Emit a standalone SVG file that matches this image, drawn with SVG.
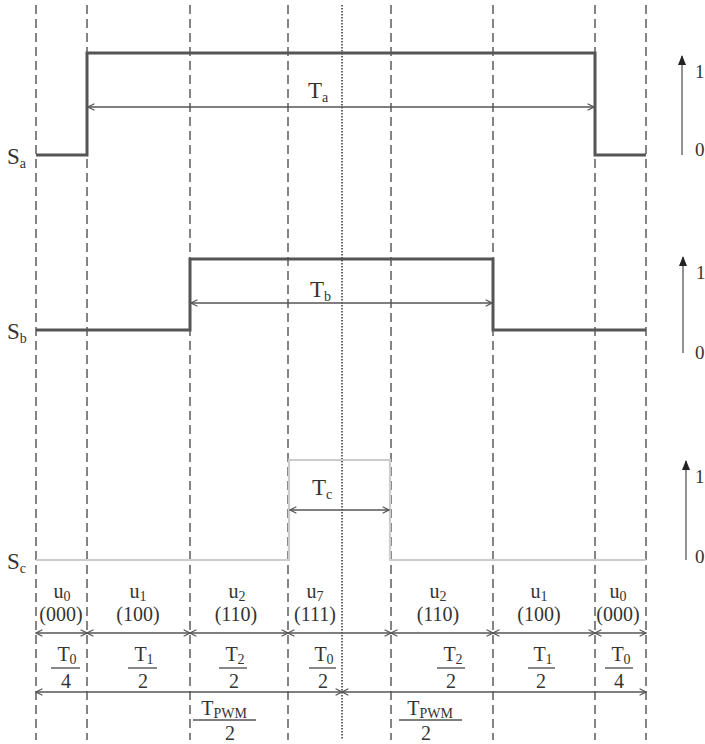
<svg xmlns="http://www.w3.org/2000/svg" width="705" height="744" viewBox="0 0 705 744">
<defs>
<style>
text{font-family:"Liberation Serif","DejaVu Serif",serif;fill:#333}
.lbl{font-size:23px}
.sm{font-size:20px}
.sub{font-size:14px}
.ax{font-size:19px}
.dash{stroke:#666;stroke-width:1.6;stroke-dasharray:9 5;fill:none}
.dot{stroke:#444;stroke-width:1.6;stroke-dasharray:1.5 1.5;fill:none}
.sig{stroke:#555;stroke-width:3;fill:none}
.sigc{stroke:#ccc;stroke-width:2.2;fill:none}
.dim{stroke:#555;stroke-width:1.4;fill:none;marker-start:url(#oa);marker-end:url(#oa)}
.bar{stroke:#555;stroke-width:1.4}
.axl{stroke:#777;stroke-width:1.6;marker-end:url(#fa)}
</style>
<marker id="oa" viewBox="0 0 10 10" refX="9" refY="5" markerWidth="8" markerHeight="8" markerUnits="userSpaceOnUse" orient="auto-start-reverse">
<path d="M1,1 L9,5 L1,9" fill="none" stroke="#555" stroke-width="1.4"/>
</marker>
<marker id="fa" viewBox="0 0 10 10" refX="9" refY="5" markerWidth="10" markerHeight="10" markerUnits="userSpaceOnUse" orient="auto">
<path d="M0,1 L10,5 L0,9 Z" fill="#222"/>
</marker>
</defs>
<g id="gridlines">
<line class="dash" x1="36" y1="5" x2="36" y2="740"/>
<line class="dash" x1="87" y1="5" x2="87" y2="740"/>
<line class="dash" x1="190" y1="5" x2="190" y2="740"/>
<line class="dash" x1="288" y1="5" x2="288" y2="740"/>
<line class="dash" x1="391" y1="5" x2="391" y2="740"/>
<line class="dash" x1="493" y1="5" x2="493" y2="740"/>
<line class="dash" x1="595" y1="5" x2="595" y2="740"/>
<line class="dash" x1="646" y1="5" x2="646" y2="740"/>
<line class="dot" x1="342" y1="5" x2="342" y2="740"/>
</g>
<g id="Sa">
<path class="sig" d="M36,155 H87 V53 H595 V155 H646"/>
<text class="lbl" x="7" y="164">S<tspan class="sub" dy="4">a</tspan></text>
<text class="lbl" x="308" y="98">T<tspan class="sub" dy="4">a</tspan></text>
</g>
<g id="Sb">
<path class="sig" d="M36,330 H190 V259 H493 V330 H646"/>
<text class="lbl" x="7" y="339">S<tspan class="sub" dy="4">b</tspan></text>
<text class="lbl" x="310" y="297">T<tspan class="sub" dy="4">b</tspan></text>
</g>
<g id="Sc">
<path class="sigc" d="M36,560 H289 V460 H390 V560 H646"/>
<text class="lbl" x="7" y="569">S<tspan class="sub" dy="4">c</tspan></text>
<text class="lbl" x="312" y="495">T<tspan class="sub" dy="4">c</tspan></text>
</g>
<g id="axes">
<line class="axl" x1="682" y1="155" x2="682" y2="56"/>
<text class="ax" x="695" y="78">1</text>
<text class="ax" x="695" y="156">0</text>
<line class="axl" x1="683" y1="353" x2="683" y2="257"/>
<text class="ax" x="696" y="279">1</text>
<text class="ax" x="695" y="359">0</text>
<line class="axl" x1="686" y1="560" x2="686" y2="461"/>
<text class="ax" x="695" y="483">1</text>
<text class="ax" x="695" y="563">0</text>
</g>
<g id="connectors">
<line class="dim" x1="88" y1="107" x2="594" y2="107"/>
<line class="dim" x1="191" y1="303" x2="492" y2="303"/>
<line class="dim" x1="290" y1="510" x2="389" y2="510"/>
<line class="dim" x1="36" y1="633" x2="87" y2="633"/>
<line class="dim" x1="87" y1="633" x2="190" y2="633"/>
<line class="dim" x1="190" y1="633" x2="288" y2="633"/>
<line class="dim" x1="288" y1="633" x2="391" y2="633"/>
<line class="dim" x1="391" y1="633" x2="493" y2="633"/>
<line class="dim" x1="493" y1="633" x2="595" y2="633"/>
<line class="dim" x1="595" y1="633" x2="646" y2="633"/>
<line class="dim" x1="36" y1="692" x2="342" y2="692"/>
<line class="dim" x1="342" y1="692" x2="646" y2="692"/>
</g>
<g id="states" text-anchor="middle">
<text class="sm" x="62" y="598">u<tspan class="sub" dy="3">0</tspan></text>
<text class="sm" x="61" y="621">(000)</text>
<text class="sm" x="138" y="598">u<tspan class="sub" dy="3">1</tspan></text>
<text class="sm" x="138" y="621">(100)</text>
<text class="sm" x="237" y="598">u<tspan class="sub" dy="3">2</tspan></text>
<text class="sm" x="236" y="621">(110)</text>
<text class="sm" x="315" y="598">u<tspan class="sub" dy="3">7</tspan></text>
<text class="sm" x="315" y="621">(111)</text>
<text class="sm" x="438" y="598">u<tspan class="sub" dy="3">2</tspan></text>
<text class="sm" x="438" y="621">(110)</text>
<text class="sm" x="539" y="598">u<tspan class="sub" dy="3">1</tspan></text>
<text class="sm" x="539" y="621">(100)</text>
<text class="sm" x="618" y="598">u<tspan class="sub" dy="3">0</tspan></text>
<text class="sm" x="618" y="621">(000)</text>
</g>
<g id="fractions" text-anchor="middle">
<text class="sm" x="67" y="661">T<tspan class="sub" dy="3">0</tspan></text>
<line class="bar" x1="51" y1="668" x2="80" y2="668"/>
<text class="sm" x="66" y="688">4</text>
<text class="sm" x="144" y="661">T<tspan class="sub" dy="3">1</tspan></text>
<line class="bar" x1="128" y1="668" x2="157" y2="668"/>
<text class="sm" x="143" y="688">2</text>
<text class="sm" x="235" y="661">T<tspan class="sub" dy="3">2</tspan></text>
<line class="bar" x1="219" y1="668" x2="247" y2="668"/>
<text class="sm" x="234" y="688">2</text>
<text class="sm" x="324" y="661">T<tspan class="sub" dy="3">0</tspan></text>
<line class="bar" x1="309" y1="668" x2="336" y2="668"/>
<text class="sm" x="323" y="688">2</text>
<text class="sm" x="453" y="661">T<tspan class="sub" dy="3">2</tspan></text>
<line class="bar" x1="437" y1="668" x2="465" y2="668"/>
<text class="sm" x="451" y="688">2</text>
<text class="sm" x="543" y="661">T<tspan class="sub" dy="3">1</tspan></text>
<line class="bar" x1="528" y1="668" x2="555" y2="668"/>
<text class="sm" x="541" y="688">2</text>
<text class="sm" x="621" y="661">T<tspan class="sub" dy="3">0</tspan></text>
<line class="bar" x1="605" y1="668" x2="633" y2="668"/>
<text class="sm" x="619" y="688">4</text>
<text class="sm" x="224" y="715">T<tspan class="sub" dy="3" font-size="12">PWM</tspan></text>
<line class="bar" x1="193" y1="720" x2="256" y2="720"/>
<text class="sm" x="230" y="740">2</text>
<text class="sm" x="430" y="715">T<tspan class="sub" dy="3" font-size="12">PWM</tspan></text>
<line class="bar" x1="399" y1="720" x2="462" y2="720"/>
<text class="sm" x="426" y="740">2</text>
</g>
</svg>
